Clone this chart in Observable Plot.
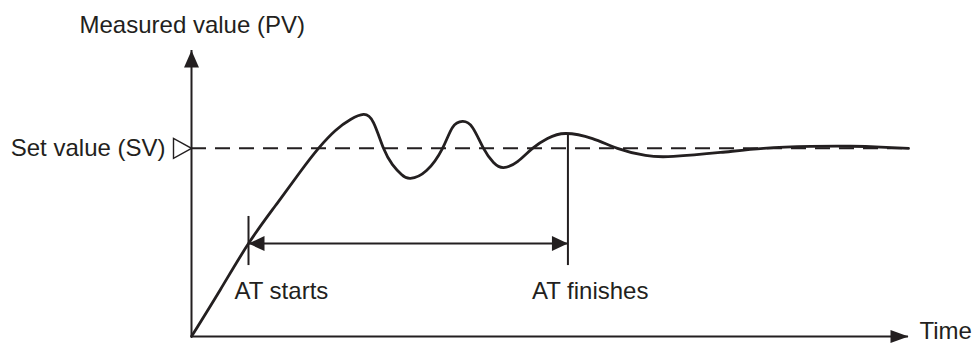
<!DOCTYPE html>
<html>
<head>
<meta charset="utf-8">
<script src="https://cdn.jsdelivr.net/npm/d3@7"></script>
<script src="https://cdn.jsdelivr.net/npm/@observablehq/plot@0.6"></script>
<style>
  html, body { margin: 0; padding: 0; background: #fff; }
  #chart svg { display: block; overflow: visible; }
</style>
</head>
<body>
<div id="chart"></div>
<script>
// ---- data (time units 0..100, PV with SV = 100) ----
const time = [0, 4.04, 7.95, 11.72, 15.2, 17.71, 20.08, 22.18, 23.99, 25.38, 26.78, 28.03, 29.29, 30.54, 32.78, 35.01, 36.4, 37.8, 39.19, 40.73, 42.12, 43.51, 45.47, 47.56, 49.65, 52.16, 55.93, 59.41, 63.32, 67.22, 73.78, 79.78, 86.33, 91.91, 96.1, 100];
const pv   = [0, 25.0, 49.4, 69.6, 87.7, 100, 109.5, 115.3, 118.0, 113.7, 100, 91.4, 86.1, 84.0, 88.2, 100, 111.1, 114.3, 111.1, 100, 92.5, 89.8, 93.0, 100, 105.2, 107.9, 105.2, 100, 96.2, 95.7, 97.8, 100, 101.0, 101.1, 100.7, 100];

const setValue = 100;
const timeMax = 100;
const pvMax = 152;
const atStart = 7.95;     // time where autotuning starts
const atStartPV = 49.4;   // PV at AT start (arrow level)
const atFinish = 52.5;    // time where autotuning finishes
const atFinishPV = 107.9; // PV at AT finish
const tickLow = 37.7, tickHigh = 63.8;

const yTitle = "Measured value (PV)";
const xTitle = "Time";
const svLabel = "Set value (SV)";
const startLabel = "AT starts";
const finishLabel = "AT finishes";

// ---- build ----
const curveData = time.map((t, i) => ({t, v: pv[i]}));
const ink = "#231f20";
const font = "'Liberation Sans', Arial, Helvetica, sans-serif";

function head(len, half) {
  return {draw(ctx) { ctx.moveTo(0, 0); ctx.lineTo(half, len); ctx.lineTo(-half, len); ctx.closePath(); }};
}

const chart = Plot.plot({
  width: 976,
  height: 343,
  marginLeft: 191,
  marginRight: 68,
  marginTop: 50,
  marginBottom: 7,
  style: {fontFamily: font, fontSize: "24px", color: ink, background: "#fff", overflow: "visible"},
  x: {domain: [0, timeMax], axis: null},
  y: {domain: [0, pvMax], axis: null},
  marks: [
    // set value dashed line
    Plot.ruleY([setValue], {x1: 0, x2: timeMax, stroke: ink, strokeWidth: 2, strokeDasharray: "15,9"}),
    // axes
    Plot.ruleX([0], {y1: 0, y2: pvMax, stroke: ink, strokeWidth: 2}),
    Plot.ruleY([0], {x1: 0, x2: timeMax, stroke: ink, strokeWidth: 2}),
    Plot.dot([{x: 0, y: pvMax}], {x: "x", y: "y", symbol: head(17, 7.5), rotate: 0, fill: ink, stroke: "none"}),
    Plot.dot([{x: timeMax, y: 0}], {x: "x", y: "y", symbol: head(18, 6.5), rotate: 90, fill: ink, stroke: "none"}),
    // SV marker (open triangle)
    Plot.dot([{x: 0, y: setValue}], {x: "x", y: "y", symbol: head(18, 10), rotate: 90, fill: "#fff", stroke: ink, strokeWidth: 1.4}),
    // AT markers
    Plot.ruleX([atStart], {y1: tickLow, y2: tickHigh, stroke: ink, strokeWidth: 2}),
    Plot.ruleX([atFinish], {y1: tickLow, y2: atFinishPV, stroke: ink, strokeWidth: 2}),
    Plot.ruleY([atStartPV], {x1: atStart, x2: atFinish, stroke: ink, strokeWidth: 2}),
    Plot.dot([{x: atStart, y: atStartPV}], {x: "x", y: "y", symbol: head(16, 7.5), rotate: -90, fill: ink, stroke: "none"}),
    Plot.dot([{x: atFinish, y: atStartPV}], {x: "x", y: "y", symbol: head(16, 7.5), rotate: 90, fill: ink, stroke: "none"}),
    // PV response curve
    Plot.line(curveData, {x: "t", y: "v", curve: "natural", stroke: ink, strokeWidth: 2.8, strokeLinecap: "round", strokeLinejoin: "round"}),
    // labels
    Plot.text([yTitle], {x: 0, y: pvMax, text: d => d, textAnchor: "start", lineAnchor: "bottom", dx: -112, dy: -18, fill: ink, fontSize: 24}),
    Plot.text([svLabel], {x: 0, y: setValue, text: d => d, textAnchor: "end", lineAnchor: "bottom", dx: -26, dy: 8, fill: ink, fontSize: 24}),
    Plot.text([startLabel], {x: atStart, y: 0, text: d => d, textAnchor: "start", lineAnchor: "bottom", dx: -14, dy: -38, fill: ink, fontSize: 24}),
    Plot.text([finishLabel], {x: atFinish, y: 0, text: d => d, textAnchor: "start", lineAnchor: "bottom", dx: -36, dy: -38, fill: ink, fontSize: 24}),
    Plot.text([xTitle], {x: timeMax, y: 0, text: d => d, textAnchor: "start", lineAnchor: "bottom", dx: 11, dy: 2, fill: ink, fontSize: 24})
  ]
});
document.getElementById("chart").appendChild(chart);
</script>
</body>
</html>
